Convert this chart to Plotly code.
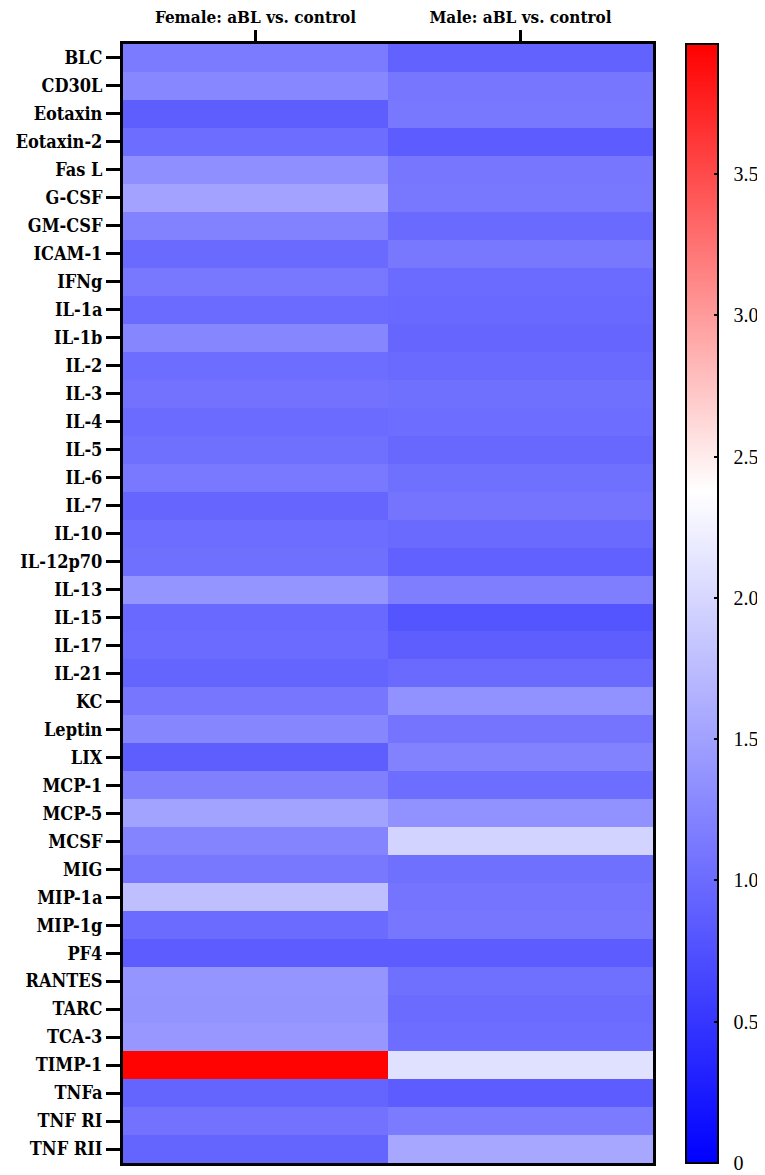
import plotly.graph_objects as go

# cytokines, top to bottom
cytokines = [
    "BLC", "CD30L", "Eotaxin", "Eotaxin-2", "Fas L", "G-CSF", "GM-CSF", "ICAM-1",
    "IFNg", "IL-1a", "IL-1b", "IL-2", "IL-3", "IL-4", "IL-5", "IL-6", "IL-7",
    "IL-10", "IL-12p70", "IL-13", "IL-15", "IL-17", "IL-21", "KC", "Leptin",
    "LIX", "MCP-1", "MCP-5", "MCSF", "MIG", "MIP-1a", "MIP-1g", "PF4", "RANTES",
    "TARC", "TCA-3", "TIMP-1", "TNFa", "TNF RI", "TNF RII",
]
groups = ["Female: aBL vs. control", "Male: aBL vs. control"]

# fold change values
female = [
    1.15, 1.26, 0.88, 1.02, 1.33, 1.52, 1.21, 0.99,
    1.12, 1.00, 1.25, 1.02, 1.06, 1.00, 1.04, 1.13, 0.95,
    1.02, 1.04, 1.39, 0.98, 1.00, 0.93, 1.10, 1.25,
    0.88, 1.19, 1.51, 1.23, 1.12, 1.78, 1.00, 0.86, 1.39,
    1.38, 1.41, 3.95, 0.93, 1.06, 0.93,
]
male = [
    0.91, 1.10, 1.12, 0.86, 1.10, 1.12, 0.99, 1.12,
    1.00, 0.98, 0.95, 0.99, 1.04, 1.02, 0.97, 1.04, 1.08,
    0.99, 0.90, 1.17, 0.79, 0.88, 0.99, 1.35, 1.08,
    1.21, 1.02, 1.35, 1.97, 1.04, 1.08, 1.10, 0.86, 1.04,
    1.00, 1.02, 2.09, 0.86, 1.15, 1.56,
]

cbar_ticks = [0, 0.5, 1.0, 1.5, 2.0, 2.5, 3.0, 3.5]
cbar_labels = ["0", "0.5", "1.0", "1.5", "2.0", "2.5", "3.0", "3.5"]

z = [[f, m] for f, m in zip(female, male)]

fig = go.Figure(go.Heatmap(
    z=z,
    x=groups,
    y=cytokines,
    zmin=0,
    zmax=3.96,
    colorscale=[[0, "#0000ff"], [0.6, "#ffffff"], [1, "#ff0000"]],
    colorbar=dict(
        x=1.062,
        xanchor="left",
        xpad=0,
        y=0,
        yanchor="bottom",
        ypad=0,
        len=1,
        thickness=32,
        outlinecolor="black",
        outlinewidth=2,
        tickvals=cbar_ticks,
        ticktext=["\u2002" + t for t in cbar_labels],
        ticks="inside",
        ticklen=5,
        tickwidth=2,
        tickcolor="black",
        tickfont=dict(family="Liberation Serif", size=20, color="black"),
    ),
))

axis_style = dict(
    automargin=False,
    showline=True,
    mirror=True,
    linecolor="black",
    linewidth=3,
    ticks="outside",
    tickwidth=3,
    tickcolor="black",
)
fig.update_xaxes(side="top", ticklen=11, **axis_style,
                 tickfont=dict(family="DejaVu Serif Condensed", size=17, color="black", weight=700))
fig.update_yaxes(autorange="reversed", ticklen=14, **axis_style,
                 tickfont=dict(family="DejaVu Serif Condensed", size=18, color="black", weight=700))

# page body adds a small offset, so the figure is a bit smaller than the window
fig.update_layout(
    width=757,
    height=1167,
    margin=dict(l=115, r=112, t=36, b=12, autoexpand=False),
    plot_bgcolor="white",
    paper_bgcolor="white",
)

fig.write_html("out.html")
